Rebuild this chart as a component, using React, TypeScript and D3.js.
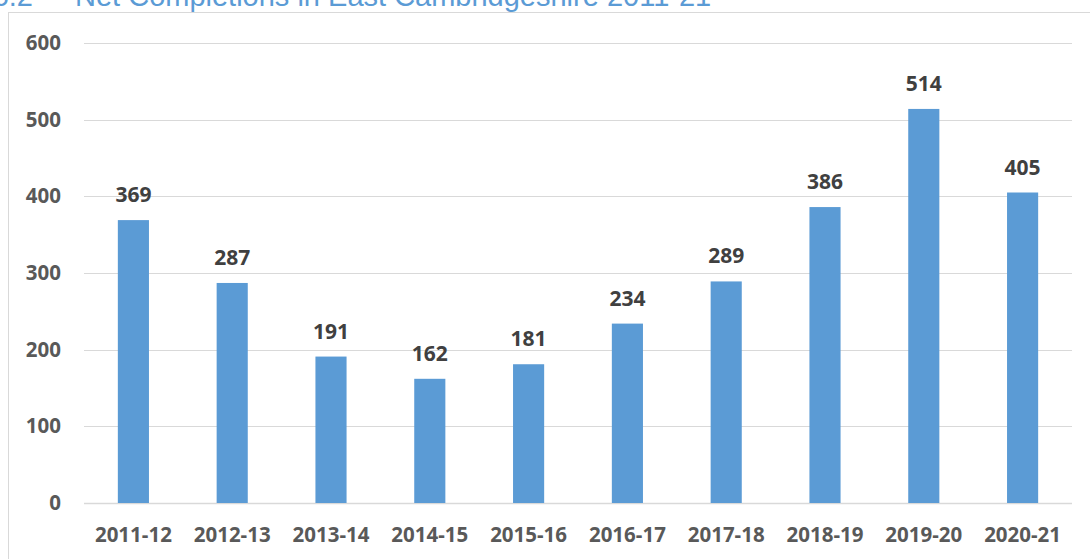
import { useEffect, useRef } from 'react';
import * as d3 from 'd3';

const years = ['2011-12', '2012-13', '2013-14', '2014-15', '2015-16', '2016-17', '2017-18', '2018-19', '2019-20', '2020-21'];
const completions = [369, 287, 191, 162, 181, 234, 289, 386, 514, 405];
const yTicks = [0, 100, 200, 300, 400, 500, 600];

export default function App() {
  const svgRef = useRef<SVGSVGElement>(null);

  useEffect(() => {
    const width = 1090;
    const height = 559;
    const margin = { top: 43, right: 18, bottom: 56, left: 84 };
    const innerWidth = width - margin.left - margin.right;
    const innerHeight = height - margin.top - margin.bottom;

    const svg = d3.select(svgRef.current)
      .attr('width', width)
      .attr('height', height);
    svg.selectAll('*').remove();

    // chart frame (partly off-screen)
    svg.append('rect')
      .attr('x', 8.5)
      .attr('y', 12.5)
      .attr('width', 1200)
      .attr('height', 700)
      .attr('fill', 'white')
      .attr('stroke', '#d9d9d9')
      .attr('stroke-width', 1);

    // title, cut at the top edge as in the source
    svg.append('text')
      .attr('x', 33)
      .attr('y', 6)
      .attr('text-anchor', 'end')
      .attr('font-family', '"Liberation Sans", Arial, sans-serif')
      .attr('font-size', 29)
      .attr('fill', '#5b9bd5')
      .text('6.2');
    svg.append('text')
      .attr('x', 75)
      .attr('y', 6)
      .attr('font-family', '"Liberation Sans", Arial, sans-serif')
      .attr('font-size', 29)
      .attr('fill', '#5b9bd5')
      .text('Net Completions in East Cambridgeshire 2011-21');

    const chart = svg.append('g')
      .attr('transform', `translate(${margin.left},${margin.top})`);

    const x = d3.scaleBand()
      .domain(years)
      .range([0, innerWidth])
      .paddingInner(0.685)
      .paddingOuter(0.3425);

    const y = d3.scaleLinear()
      .domain([0, 600])
      .range([innerHeight, 0]);

    const font = '"Open Sans", Lato, sans-serif';

    // gridlines
    chart.selectAll('.grid')
      .data(yTicks)
      .join('line')
      .attr('class', 'grid')
      .attr('x1', 0)
      .attr('x2', innerWidth)
      .attr('y1', d => Math.round(y(d)) + 0.5)
      .attr('y2', d => Math.round(y(d)) + 0.5)
      .attr('stroke', '#d9d9d9')
      .attr('stroke-width', d => d === 0 ? 1.5 : 1.2);

    // y axis labels
    const yAxis = chart.append('g')
      .call(d3.axisLeft(y).tickValues(yTicks).tickSize(0).tickPadding(23));
    yAxis.select('.domain').remove();
    yAxis.selectAll('text')
      .attr('font-family', font)
      .attr('font-size', 20.5)
      .attr('font-weight', 700)
      .attr('fill', '#595959');

    // bars
    chart.selectAll('.bar')
      .data(completions)
      .join('rect')
      .attr('class', 'bar')
      .attr('x', (d, i) => x(years[i])!)
      .attr('y', d => y(d))
      .attr('width', x.bandwidth())
      .attr('height', d => innerHeight - y(d))
      .attr('fill', '#5b9bd5');

    // value labels
    chart.selectAll('.value')
      .data(completions)
      .join('text')
      .attr('class', 'value')
      .attr('x', (d, i) => x(years[i])! + x.bandwidth() / 2)
      .attr('y', d => y(d) - 18)
      .attr('text-anchor', 'middle')
      .attr('font-family', font)
      .attr('font-size', 21)
      .attr('font-weight', 700)
      .attr('fill', '#404040')
      .text(d => d);

    // x axis labels
    const xAxis = chart.append('g')
      .attr('transform', `translate(0,${innerHeight})`)
      .call(d3.axisBottom(x).tickSize(0).tickPadding(24));
    xAxis.select('.domain').remove();
    xAxis.selectAll('text')
      .attr('font-family', font)
      .attr('font-size', 20.5)
      .attr('font-weight', 700)
      .attr('fill', '#595959');
  }, []);

  return (
    <div style={{ position: 'absolute', left: 0, top: 0, width: 1090, height: 559, overflow: 'hidden' }}>
      <svg ref={svgRef} style={{ display: 'block' }}></svg>
    </div>
  );
}
